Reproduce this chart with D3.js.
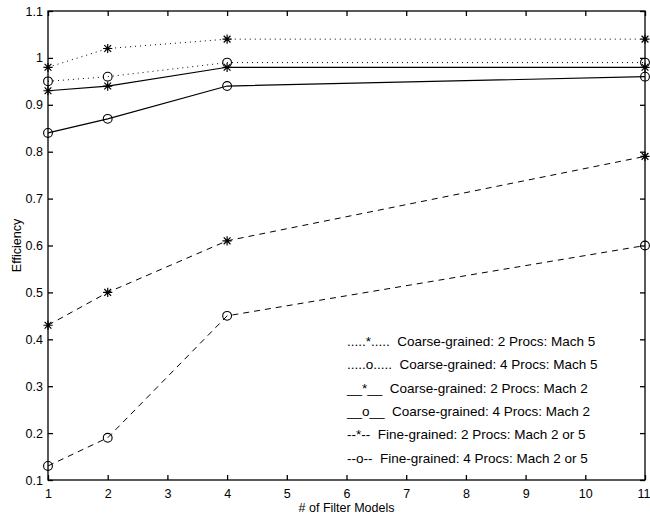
<!DOCTYPE html>
<html><head><meta charset="utf-8">
<script src="https://cdn.jsdelivr.net/npm/d3@7"></script>
<style>
html,body{margin:0;padding:0;background:#fff;}
svg{display:block;font-family:"Liberation Sans",Arial,Helvetica,sans-serif;}
</style></head>
<body>
<svg id="chart" width="650" height="518"></svg>
<script>
const xValues = [1, 2, 4, 11];
const coarse2Mach5 = [0.98, 1.02, 1.04, 1.04];
const coarse4Mach5 = [0.95, 0.96, 0.99, 0.99];
const coarse2Mach2 = [0.93, 0.94, 0.98, 0.98];
const coarse4Mach2 = [0.84, 0.87, 0.94, 0.96];
const fine2 = [0.43, 0.50, 0.61, 0.79];
const fine4 = [0.13, 0.19, 0.45, 0.60];
const xTicks = [1,2,3,4,5,6,7,8,9,10,11];
const yTicks = [0.1,0.2,0.3,0.4,0.5,0.6,0.7,0.8,0.9,1,1.1];
const legendLabels = [
  ".....*.....  Coarse-grained: 2 Procs: Mach 5",
  ".....o.....  Coarse-grained: 4 Procs: Mach 5",
  "__*__  Coarse-grained: 2 Procs: Mach 2",
  "__o__  Coarse-grained: 4 Procs: Mach 2",
  "--*--  Fine-grained: 2 Procs: Mach 2 or 5",
  "--o--  Fine-grained: 4 Procs: Mach 2 or 5"
];

const series = [
  {v: coarse2Mach5, dash: "1,4", marker: "star"},
  {v: coarse4Mach5, dash: "1,4", marker: "circle"},
  {v: coarse2Mach2, dash: null, marker: "star"},
  {v: coarse4Mach2, dash: null, marker: "circle"},
  {v: fine2, dash: "6,5", marker: "star"},
  {v: fine4, dash: "6,5", marker: "circle"}
];

const L = 48, R = 645, T = 11, B = 480;
const svg = d3.select("#chart");
const x = d3.scaleLinear().domain([1, 11]).range([L, R]);
const y = d3.scaleLinear().domain([0.1, 1.1]).range([B, T]);

svg.append("rect").attr("x", L).attr("y", T).attr("width", R - L).attr("height", B - T)
  .attr("fill", "none").attr("stroke", "#000").attr("stroke-width", 1.3);

const fmt = d => d3.format("~g")(d);
const axB = svg.append("g").attr("transform", `translate(0,${B})`)
  .call(d3.axisBottom(x).tickValues(xTicks).tickSizeInner(-5).tickSizeOuter(0).tickPadding(9).tickFormat(fmt));
const axT = svg.append("g").attr("transform", `translate(0,${T})`)
  .call(d3.axisTop(x).tickValues(xTicks).tickSizeInner(-5).tickSizeOuter(0).tickFormat(""));
const axL = svg.append("g").attr("transform", `translate(${L},0)`)
  .call(d3.axisLeft(y).tickValues(yTicks).tickSizeInner(-5).tickSizeOuter(0).tickPadding(5).tickFormat(fmt));
const axR = svg.append("g").attr("transform", `translate(${R},0)`)
  .call(d3.axisRight(y).tickValues(yTicks).tickSizeInner(-5).tickSizeOuter(0).tickFormat(""));
[axB, axT, axL, axR].forEach(g => {
  g.select(".domain").remove();
  g.selectAll(".tick line").attr("stroke", "#000").attr("stroke-width", 1.3);
  g.selectAll("text").attr("fill", "#000").attr("font-size", 12.5).attr("font-family", "Liberation Sans, Arial, sans-serif");
});
// keep the last x label inside the window (it sits at the right edge as in the reference)
axB.selectAll(".tick").filter(d => d === 11).select("text").attr("text-anchor", "end").attr("x", 5);

const line = d3.line().x((d, i) => x(xValues[i])).y(d => y(d));
series.forEach(s => {
  svg.append("path").datum(s.v).attr("d", line)
    .attr("fill", "none").attr("stroke", "#000").attr("stroke-width", s.dash ? 1 : 1.2)
    .attr("stroke-dasharray", s.dash);
  const g = svg.append("g");
  s.v.forEach((d, i) => {
    const cx = x(xValues[i]), cy = y(d);
    if (s.marker === "circle") {
      g.append("circle").attr("cx", cx).attr("cy", cy).attr("r", 4.4)
        .attr("fill", "none").attr("stroke", "#000").attr("stroke-width", 1.1);
    } else {
      const r = 4.6, q = 3.4;
      const p = `M${cx},${cy - r}L${cx},${cy + r}M${cx - r},${cy}L${cx + r},${cy}` +
        `M${cx - q},${cy - q}L${cx + q},${cy + q}M${cx - q},${cy + q}L${cx + q},${cy - q}`;
      g.append("path").attr("d", p).attr("stroke", "#000").attr("stroke-width", 1.2).attr("fill", "none");
    }
  });
});

svg.append("g").selectAll("text").data(legendLabels).join("text")
  .attr("x", 347).attr("y", (d, i) => 341 + i * 23.4).attr("dy", "0.35em")
  .attr("font-size", 13.5).attr("fill", "#000")
  .attr("xml:space", "preserve").style("white-space", "pre")
  .text(d => d);

svg.append("text").attr("x", (L + R) / 2).attr("y", 512).attr("text-anchor", "middle")
  .attr("font-size", 12.5).text("# of Filter Models");
svg.append("text").attr("transform", `translate(21,${(T + B) / 2}) rotate(-90)`)
  .attr("text-anchor", "middle").attr("font-size", 12.5).text("Efficiency");
</script>
</body></html>
